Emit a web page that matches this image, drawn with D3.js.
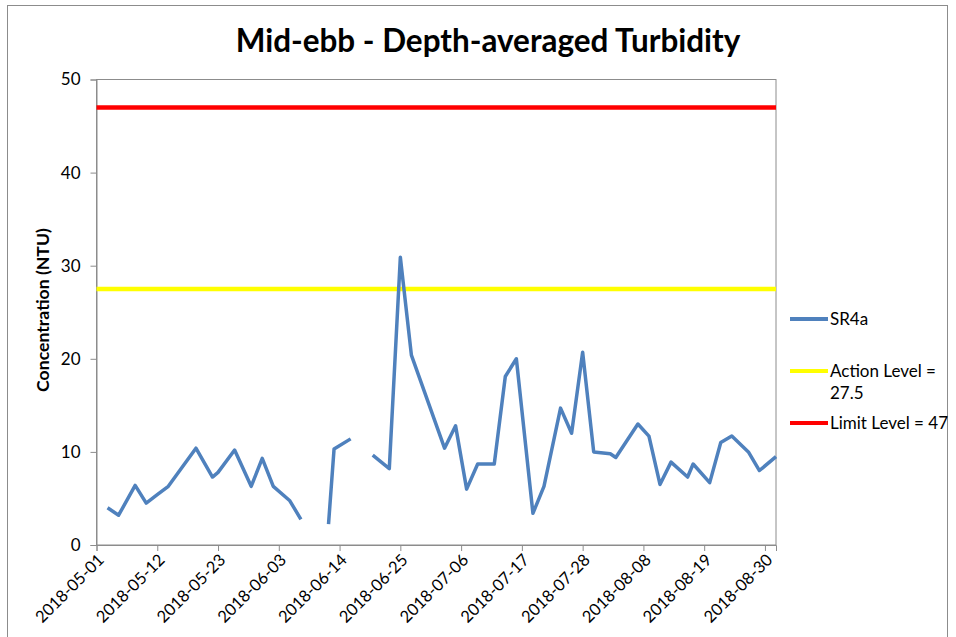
<!DOCTYPE html>
<html><head><meta charset="utf-8">
<script src="https://cdn.jsdelivr.net/npm/d3@7"></script>
<style>
body{margin:0;background:#fff;}
text{font-family:Lato,"Liberation Sans",sans-serif;fill:#000;}
</style></head>
<body><svg id="c" width="956" height="637"></svg>
<script>
const titleText = "Mid-ebb - Depth-averaged Turbidity";
const yLabel = "Concentration (NTU)";
const dates = ["2018-05-03","2018-05-05","2018-05-08","2018-05-10","2018-05-12","2018-05-14","2018-05-19","2018-05-22","2018-05-23","2018-05-26","2018-05-29","2018-05-31","2018-06-02","2018-06-05","2018-06-07","2018-06-09","2018-06-12","2018-06-13","2018-06-16","2018-06-18","2018-06-20","2018-06-23","2018-06-25","2018-06-27","2018-07-03","2018-07-05","2018-07-07","2018-07-09","2018-07-12","2018-07-14","2018-07-16","2018-07-19","2018-07-21","2018-07-24","2018-07-26","2018-07-28","2018-07-30","2018-08-02","2018-08-03","2018-08-07","2018-08-09","2018-08-11","2018-08-13","2018-08-16","2018-08-17","2018-08-20","2018-08-22","2018-08-24","2018-08-27","2018-08-29","2018-09-01"];
const sr4a = [4.0,3.2,6.4,4.5,5.4,6.3,10.4,7.3,7.8,10.2,6.3,9.3,6.3,4.75,2.75,null,2.25,10.3,11.4,null,9.65,8.2,30.9,20.4,10.4,12.8,6.0,8.7,8.7,18.1,20.0,3.4,6.3,14.7,12.0,20.7,10.0,9.8,9.4,13.0,11.7,6.5,8.9,7.3,8.7,6.7,11.0,11.7,10.0,8.0,9.5];
const actionLevel = 27.5;
const limitLevel = 47;
const yTicks = [0,10,20,30,40,50];
const xTickLabels = ["2018-05-01","2018-05-12","2018-05-23","2018-06-03","2018-06-14","2018-06-25","2018-07-06","2018-07-17","2018-07-28","2018-08-08","2018-08-19","2018-08-30"];
const xDomain = ["2018-05-01","2018-09-01"];
const legendItems = [
  {lines:["SR4a"], color:"#4f81bd"},
  {lines:["Action Level =","27.5"], color:"#ffff00"},
  {lines:["Limit Level = 47"], color:"#ff0000"}
];

const parse = d3.timeParse("%Y-%m-%d");
const svg = d3.select("#c");
const L=96.5, R=776, T=79.5, B=545;

svg.append("rect").attr("x",7.5).attr("y",5.5).attr("width",940).attr("height",660)
  .attr("fill","#fff").attr("stroke","#8c8c8c").attr("stroke-width",1);

const x = d3.scaleTime().domain(xDomain.map(parse)).range([L,R]);
const y = d3.scaleLinear().domain([0,50]).range([B,T]);

svg.append("rect").attr("x",L).attr("y",T).attr("width",R-L).attr("height",B-T)
  .attr("fill","none").attr("stroke","#8c8c8c");

const ya = svg.append("g").attr("transform",`translate(${L},0)`)
  .call(d3.axisLeft(y).tickValues(yTicks).tickSize(6).tickPadding(10).tickFormat(d3.format("d")));
ya.select(".domain").attr("stroke","#8c8c8c");
ya.selectAll(".tick line").attr("stroke","#8c8c8c");
ya.selectAll("text").style("font-size","17px").attr("fill","#222");

const xa = svg.append("g").attr("transform",`translate(0,${B})`)
  .call(d3.axisBottom(x).tickValues(xTickLabels.map(parse)).tickSize(6).tickFormat(d3.timeFormat("%Y-%m-%d")));
xa.select(".domain").attr("stroke","#8c8c8c");
xa.selectAll(".tick line").attr("stroke","#8c8c8c");
xa.selectAll("text").style("font-size","16.5px").attr("fill","#222")
  .attr("text-anchor","end").attr("dy",null).attr("y",null)
  .attr("transform","translate(8,16) rotate(-45)");

svg.append("line").attr("x1",L).attr("x2",R).attr("y1",y(actionLevel)).attr("y2",y(actionLevel))
  .attr("stroke","#ffff00").attr("stroke-width",4.5);
svg.append("line").attr("x1",L).attr("x2",R).attr("y1",y(limitLevel)).attr("y2",y(limitLevel))
  .attr("stroke","#ff0000").attr("stroke-width",4.5);

const data = dates.map((d,i)=>({d:parse(d), v:sr4a[i]}));
svg.append("path").datum(data)
  .attr("fill","none").attr("stroke","#4f81bd").attr("stroke-width",3.5).attr("stroke-linejoin","round")
  .attr("d", d3.line().defined(d=>d.v!=null).x(d=>x(d.d)).y(d=>y(d.v)));

const t = svg.append("text").attr("x",488).attr("y",52).attr("text-anchor","middle")
  .style("font-size","26px").style("font-weight","bold").text(titleText);
const tw = t.node().getComputedTextLength();
t.style("font-size",(26*505/tw)+"px");

const yl = svg.append("text").attr("transform","translate(49,310) rotate(-90)").attr("text-anchor","middle")
  .style("font-size","14px").style("font-weight","bold").text(yLabel);
const yw = yl.node().getComputedTextLength();
yl.style("font-size",(14*164/yw)+"px");

const legY = [319,371,423];
legendItems.forEach((it,i)=>{
  const g = svg.append("g");
  g.append("line").attr("x1",790).attr("x2",828).attr("y1",legY[i]).attr("y2",legY[i])
    .attr("stroke",it.color).attr("stroke-width",4);
  it.lines.forEach((s,j)=>{
    g.append("text").attr("x",830).attr("y",legY[i]+6+j*22).style("font-size","17px").attr("fill","#222").text(s);
  });
});
</script></body></html>
